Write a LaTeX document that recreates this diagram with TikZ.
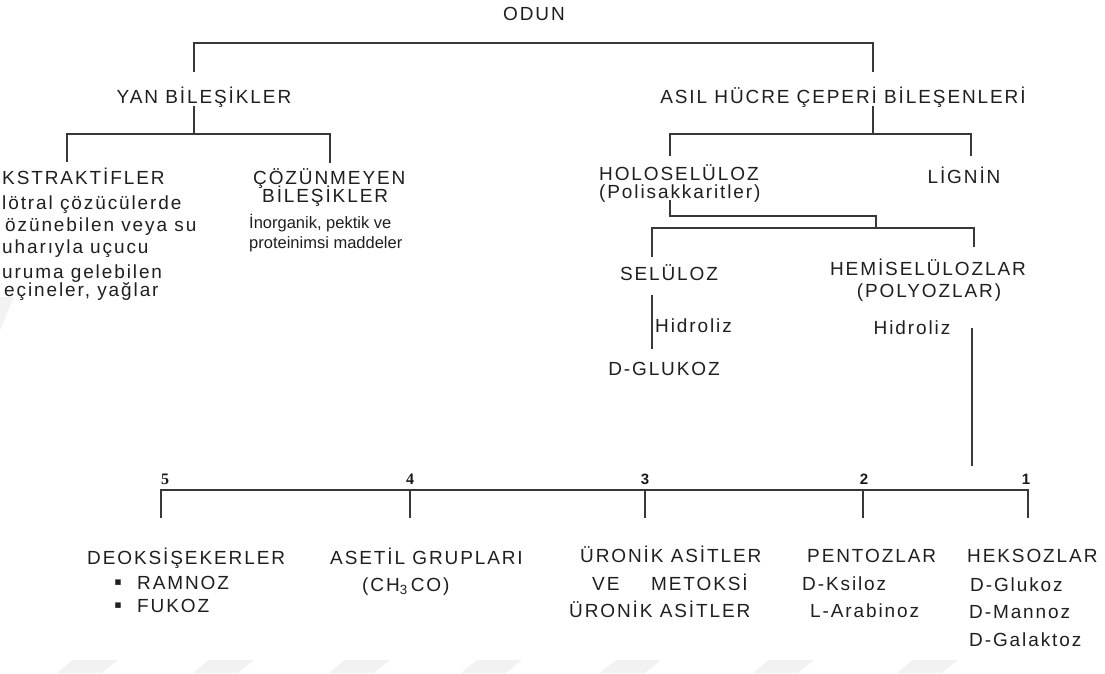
\documentclass[tikz,border=0pt]{standalone}
\usepackage{fontspec}
\setmainfont{Liberation Sans}[LetterSpace=10]
\newfontfamily\plainsans{Liberation Sans}
\newfontfamily\numserif{Liberation Serif}
\newfontfamily\numsans{Liberation Sans}
\newfontfamily\symfont{DejaVu Sans}
\begin{document}
\begin{tikzpicture}[x=1pt,y=-1pt]
\tikzset{
 txt/.style={inner sep=0pt, text=black!88, font=\fontsize{19}{22}\selectfont},
 small/.style={inner sep=0pt, text=black!88, font=\plainsans\fontsize{16.5}{20}\selectfont},
 numa/.style={inner sep=0pt, text=black!90, font=\numserif\bfseries\fontsize{16}{18}\selectfont},
 numb/.style={inner sep=0pt, text=black!90, font=\numsans\bfseries\fontsize{15}{18}\selectfont},
 bul/.style={inner sep=0pt, text=black!88, font=\symfont\fontsize{11}{12}\selectfont},
 ln/.style={line width=1.3pt, draw=black!78},
 wm/.style={fill=black!5, draw=none},
}
\useasboundingbox (0,0) rectangle (1105,673);
\fill[white] (0,0) rectangle (1105,673);

% faint watermark stripes
\foreach \sx in {57,193,329,461,600,753,897}{
  \fill[wm] (\sx,673) -- (\sx+16,660) -- (\sx+61,660) -- (\sx+45,673) -- cycle;
}
\fill[wm] (0,297) -- (14,297) -- (0,330) -- cycle;

% ---------- text nodes ----------
\node[txt, anchor=base] (odun) at (534,20) {ODUN};
\node[txt, anchor=base] (yan) at (204,103) {YAN BİLEŞİKLER};
\node[txt, anchor=base] (asil) at (843,103) {ASIL HÜCRE ÇEPERİ BİLEŞENLERİ};

\node[txt, anchor=base west] (eks) at (2,184) {KSTRAKTİFLER};
\node[txt, anchor=base west] (eks1) at (2,209) {lötral çözücülerde};
\node[txt, anchor=base west] (eks2) at (5,231) {özünebilen veya su};
\node[txt, anchor=base west] (eks3) at (2,253) {uharıyla uçucu};
\node[txt, anchor=base west] (eks4) at (2,278) {uruma gelebilen};
\node[txt, anchor=base west] (eks5) at (4,296) {eçineler, yağlar};

\node[txt, anchor=base west] (coz1) at (253,184) {ÇÖZÜNMEYEN};
\node[txt, anchor=base west] (coz2) at (262,202) {BİLEŞİKLER};
\node[small, anchor=base west] (coz3) at (249,228) {İnorganik, pektik ve};
\node[small, anchor=base west] (coz4) at (249,248) {proteinimsi maddeler};

\node[txt, anchor=base west] (holo) at (599,180) {HOLOSELÜLOZ};
\node[txt, anchor=base west] (holo2) at (599,198) {(Polisakkaritler)};
\node[txt, anchor=base] (lignin) at (964,183) {LİGNİN};

\node[txt, anchor=base] (sel) at (669,280) {SELÜLOZ};
\node[txt, anchor=base west] (hid1) at (655,332) {Hidroliz};
\node[txt, anchor=base] (dglu) at (664,375) {D-GLUKOZ};

\node[txt, anchor=base] (hemi) at (928,275) {HEMİSELÜLOZLAR};
\node[txt, anchor=base] (poly) at (929,297) {(POLYOZLAR)};
\node[txt, anchor=base] (hid2) at (912,334) {Hidroliz};

\node[numa, anchor=base] (n5) at (165,484) {5};
\node[numa, anchor=base] (n4) at (410,484) {4};
\node[numb, anchor=base] (n3) at (645,484) {3};
\node[numb, anchor=base] (n2) at (864,484) {2};
\node[numb, anchor=base] (n1) at (1026,484) {1};

\node[txt, anchor=base west] (deok) at (87,564) {DEOKSİŞEKERLER};
\node[bul] (b1) at (118,583) {▪};
\node[txt, anchor=base west] (ram) at (137,589) {RAMNOZ};
\node[bul] (b2) at (118,606) {▪};
\node[txt, anchor=base west] (fuk) at (137,612) {FUKOZ};

\node[txt, anchor=base west] (aset) at (330,564) {ASETİL GRUPLARI};
\node[txt, anchor=base west] (ch) at (362,591) {(CH\textsubscript{3}\,CO)};

\node[txt, anchor=base west] (uro1) at (580,562) {ÜRONİK ASİTLER};
\node[txt, anchor=base west] (ve) at (592,590) {VE};
\node[txt, anchor=base west] (met) at (651,590) {METOKSİ};
\node[txt, anchor=base west] (uro2) at (569,617) {ÜRONİK ASİTLER};

\node[txt, anchor=base west] (pent) at (807,562) {PENTOZLAR};
\node[txt, anchor=base west] (ksil) at (802,590) {D-Ksiloz};
\node[txt, anchor=base west] (arab) at (810,617) {L-Arabinoz};

\node[txt, anchor=base west] (heks) at (967,562) {HEKSOZLAR};
\node[txt, anchor=base west] (glu) at (970,591) {D-Glukoz};
\node[txt, anchor=base west] (man) at (969,618) {D-Mannoz};
\node[txt, anchor=base west] (gal) at (969,646) {D-Galaktoz};

% ---------- junction coordinates ----------
\coordinate (yanT) at (194,72);
\coordinate (asilT) at (873,72);
\coordinate (barA) at (0,43);
\coordinate (yanB) at (194,106);
\coordinate (barB) at (0,134);
\coordinate (eksT) at (67,162);
\coordinate (cozT) at (330,163);
\coordinate (asilB) at (873,106);
\coordinate (holoT) at (670,156);
\coordinate (ligT) at (971,156);
\coordinate (holoB) at (670,200);
\coordinate (barC) at (0,216);
\coordinate (midC) at (876,228);
\coordinate (selT) at (652,257);
\coordinate (hemiT) at (974,247);
\coordinate (selB1) at (652,295);
\coordinate (selB2) at (652,349);
\coordinate (hidT) at (972,328);
\coordinate (hidB) at (972,466);
\coordinate (barE) at (0,490);
\coordinate (d5) at (161,518);
\coordinate (d4) at (410,518);
\coordinate (d3) at (645,518);
\coordinate (d2) at (863,518);
\coordinate (d1) at (1028,518);

% ---------- connectors ----------
\draw[ln] (yanT) -- (yanT |- barA) -- (asilT |- barA) -- (asilT);
\draw[ln] (yanB) -- (yanB |- barB);
\draw[ln] (eksT) -- (eksT |- barB) -- (cozT |- barB) -- (cozT);
\draw[ln] (asilB) -- (asilB |- barB);
\draw[ln] (holoT) -- (holoT |- barB) -- (ligT |- barB) -- (ligT);
\draw[ln] (holoB) -- (holoB |- barC) -- (midC |- barC) -- (midC);
\draw[ln] (selT) -- (selT |- midC) -- (hemiT |- midC) -- (hemiT);
\draw[ln] (selB1) -- (selB2);
\draw[ln] (hidT) -- (hidB);
\draw[ln] (d5) -- (d5 |- barE) -- (d1 |- barE) -- (d1);
\draw[ln] (d4) -- (d4 |- barE);
\draw[ln] (d3) -- (d3 |- barE);
\draw[ln] (d2) -- (d2 |- barE);
\end{tikzpicture}
\end{document}
